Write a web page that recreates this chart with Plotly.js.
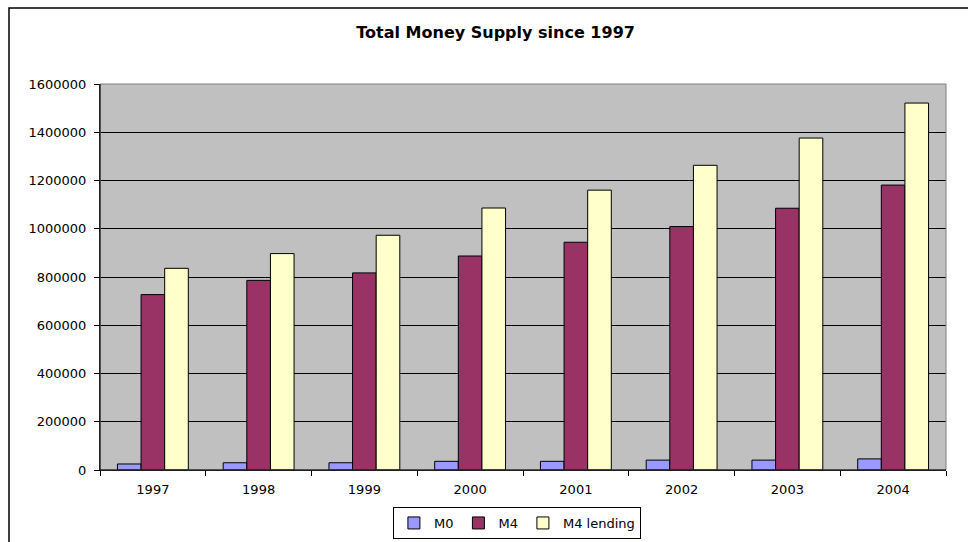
<!DOCTYPE html>
<html>
<head>
<meta charset="utf-8">
<script src="https://cdn.plot.ly/plotly-3.0.1.min.js"></script>
<style>html,body{margin:0;padding:0;background:#fff;}#chart{width:968px;height:542px;}</style>
</head>
<body>
<div id="chart"></div>
<script>
const years = ["1997","1998","1999","2000","2001","2002","2003","2004"];
const m0 = [25000, 30000, 30000, 36000, 36000, 41000, 41000, 46000];
const m4 = [727000, 786000, 817000, 887000, 944000, 1009000, 1085000, 1181000];
const m4Lending = [836000, 897000, 973000, 1086000, 1160000, 1263000, 1376000, 1521000];
const seriesNames = ["M0", "M4", "M4 lending"];
const seriesColors = ["#9999FF", "#993366", "#FFFFCC"];
const yTicks = [0, 200000, 400000, 600000, 800000, 1000000, 1200000, 1400000, 1600000];

const font = "DejaVu Sans, Verdana, sans-serif";
const traces = [m0, m4, m4Lending].map((vals, i) => ({
  type: "bar",
  name: seriesNames[i],
  x: years,
  y: vals,
  marker: {color: seriesColors[i], line: {color: "#000000", width: 1}},
  hoverinfo: "x+y+name"
}));

const layout = {
  width: 968, height: 542,
  paper_bgcolor: "#ffffff",
  plot_bgcolor: "#C0C0C0",
  margin: {l: 100, r: 22, t: 84, b: 72},
  barmode: "group",
  bargap: 0.33,
  bargroupgap: 0,
  font: {family: font, size: 13, color: "#000000"},
  title: {
    text: "<b>Total Money Supply since 1997</b>",
    font: {family: font, size: 16, color: "#000000"},
    x: 0.512, xref: "container", xanchor: "center",
    y: 0.941, yref: "container", yanchor: "middle"
  },
  xaxis: {
    type: "category",
    tickson: "boundaries",
    ticks: "outside", ticklen: 5, tickcolor: "#000000",
    ticklabelstandoff: 7,
    showline: true, linecolor: "#000000", linewidth: 1,
    showgrid: false,
    tickfont: {family: font, size: 13, color: "#000000"},
    fixedrange: true
  },
  yaxis: {
    range: [0, 1600000],
    tickvals: yTicks,
    ticktext: yTicks.map(v => String(v)),
    ticks: "outside", ticklen: 5, tickcolor: "#000000",
    ticklabelstandoff: 5,
    showline: true, linecolor: "#000000", linewidth: 1,
    showgrid: true, gridcolor: "#000000", gridwidth: 1,
    zeroline: false,
    tickfont: {family: font, size: 13, color: "#000000"},
    fixedrange: true
  },
  showlegend: true,
  legend: {
    orientation: "h",
    x: 0.534, xref: "container", xanchor: "center",
    y: 1 - 523 / 542, yref: "container", yanchor: "middle",
    bordercolor: "#000000", borderwidth: 1,
    bgcolor: "#ffffff",
    font: {family: font, size: 13, color: "#000000"},
    itemwidth: 30,
    tracegroupgap: 0
  },
  shapes: [
    {type: "rect", xref: "paper", yref: "paper", x0: 0, x1: 1, y0: 0, y1: 1,
     line: {color: "#808080", width: 1}, fillcolor: "rgba(0,0,0,0)", layer: "above"},
    {type: "line", xref: "paper", yref: "paper", x0: 0, x1: 0, y0: 0, y1: 1,
     line: {color: "#000000", width: 1}, layer: "above"},
    {type: "line", xref: "paper", yref: "paper", x0: 0, x1: 1, y0: 0, y1: 0,
     line: {color: "#000000", width: 1}, layer: "above"},
    {type: "rect", xref: "paper", yref: "paper",
     x0: -91/846, x1: 1.2, y0: -0.3, y1: 1 + 76/386,
     line: {color: "#000000", width: 1.5}, fillcolor: "rgba(0,0,0,0)", layer: "above"}
  ]
};

Plotly.newPlot("chart", traces, layout, {displayModeBar: false, staticPlot: true});
</script>
</body>
</html>
